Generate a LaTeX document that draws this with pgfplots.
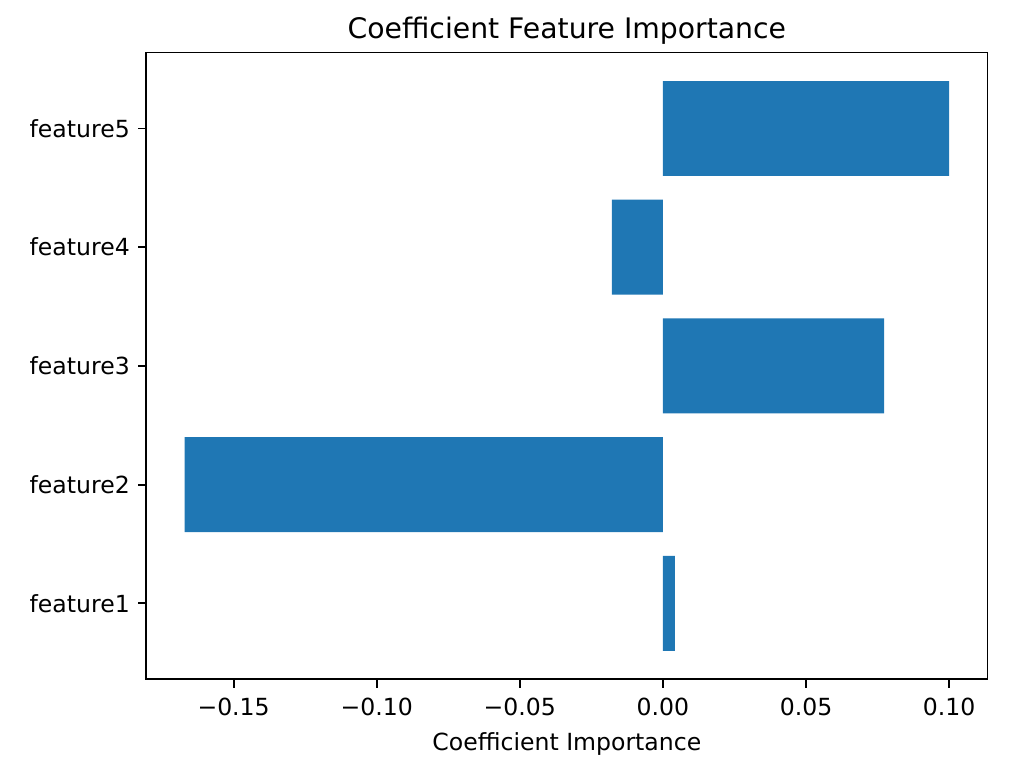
\documentclass[border=0pt]{standalone}
\usepackage{pgfplots}
\pgfplotsset{compat=1.18}
\usepackage{fontspec}
\setmainfont{DejaVu Sans}
\definecolor{mplblue}{HTML}{1F77B4}
\begin{document}
\begin{tikzpicture}
\useasboundingbox (-62.1pt,-40.9pt) rectangle (372.5pt,288.3pt);
\begin{axis}[
  scale only axis,
  width=357pt, height=266pt,
  xbar, bar width=0.8,
  xmin=-0.1805, xmax=0.1134,
  ymin=-0.64, ymax=4.64,
  ytick={0,1,2,3,4},
  yticklabels={feature1,feature2,feature3,feature4,feature5},
  xtick={-0.15,-0.10,-0.05,0,0.05,0.10},
  xticklabels={−0.15,−0.10,−0.05,0.00,0.05,0.10},
  tick align=outside, major tick length=3.5pt,
  xtick pos=bottom, ytick pos=left,
  tick style={black, line width=0.8pt},
  axis line style={line width=0.8pt},
  ticklabel style={font=\fontsize{10}{12}\selectfont},
  xticklabel style={yshift=-1pt},
  /pgf/number format/assume math mode=true,
  title={Coefficient Feature Importance},
  title style={font=\fontsize{12}{14}\selectfont, yshift=-6pt},
  xlabel={Coefficient Importance},
  xlabel style={font=\fontsize{10}{12}\selectfont, yshift=0pt},
]
\addplot[fill=mplblue, draw=none] coordinates {
  (0.0042,0) (-0.1671,1) (0.0773,2) (-0.0178,3) (0.1000,4)
};
\end{axis}
\end{tikzpicture}
\end{document}
